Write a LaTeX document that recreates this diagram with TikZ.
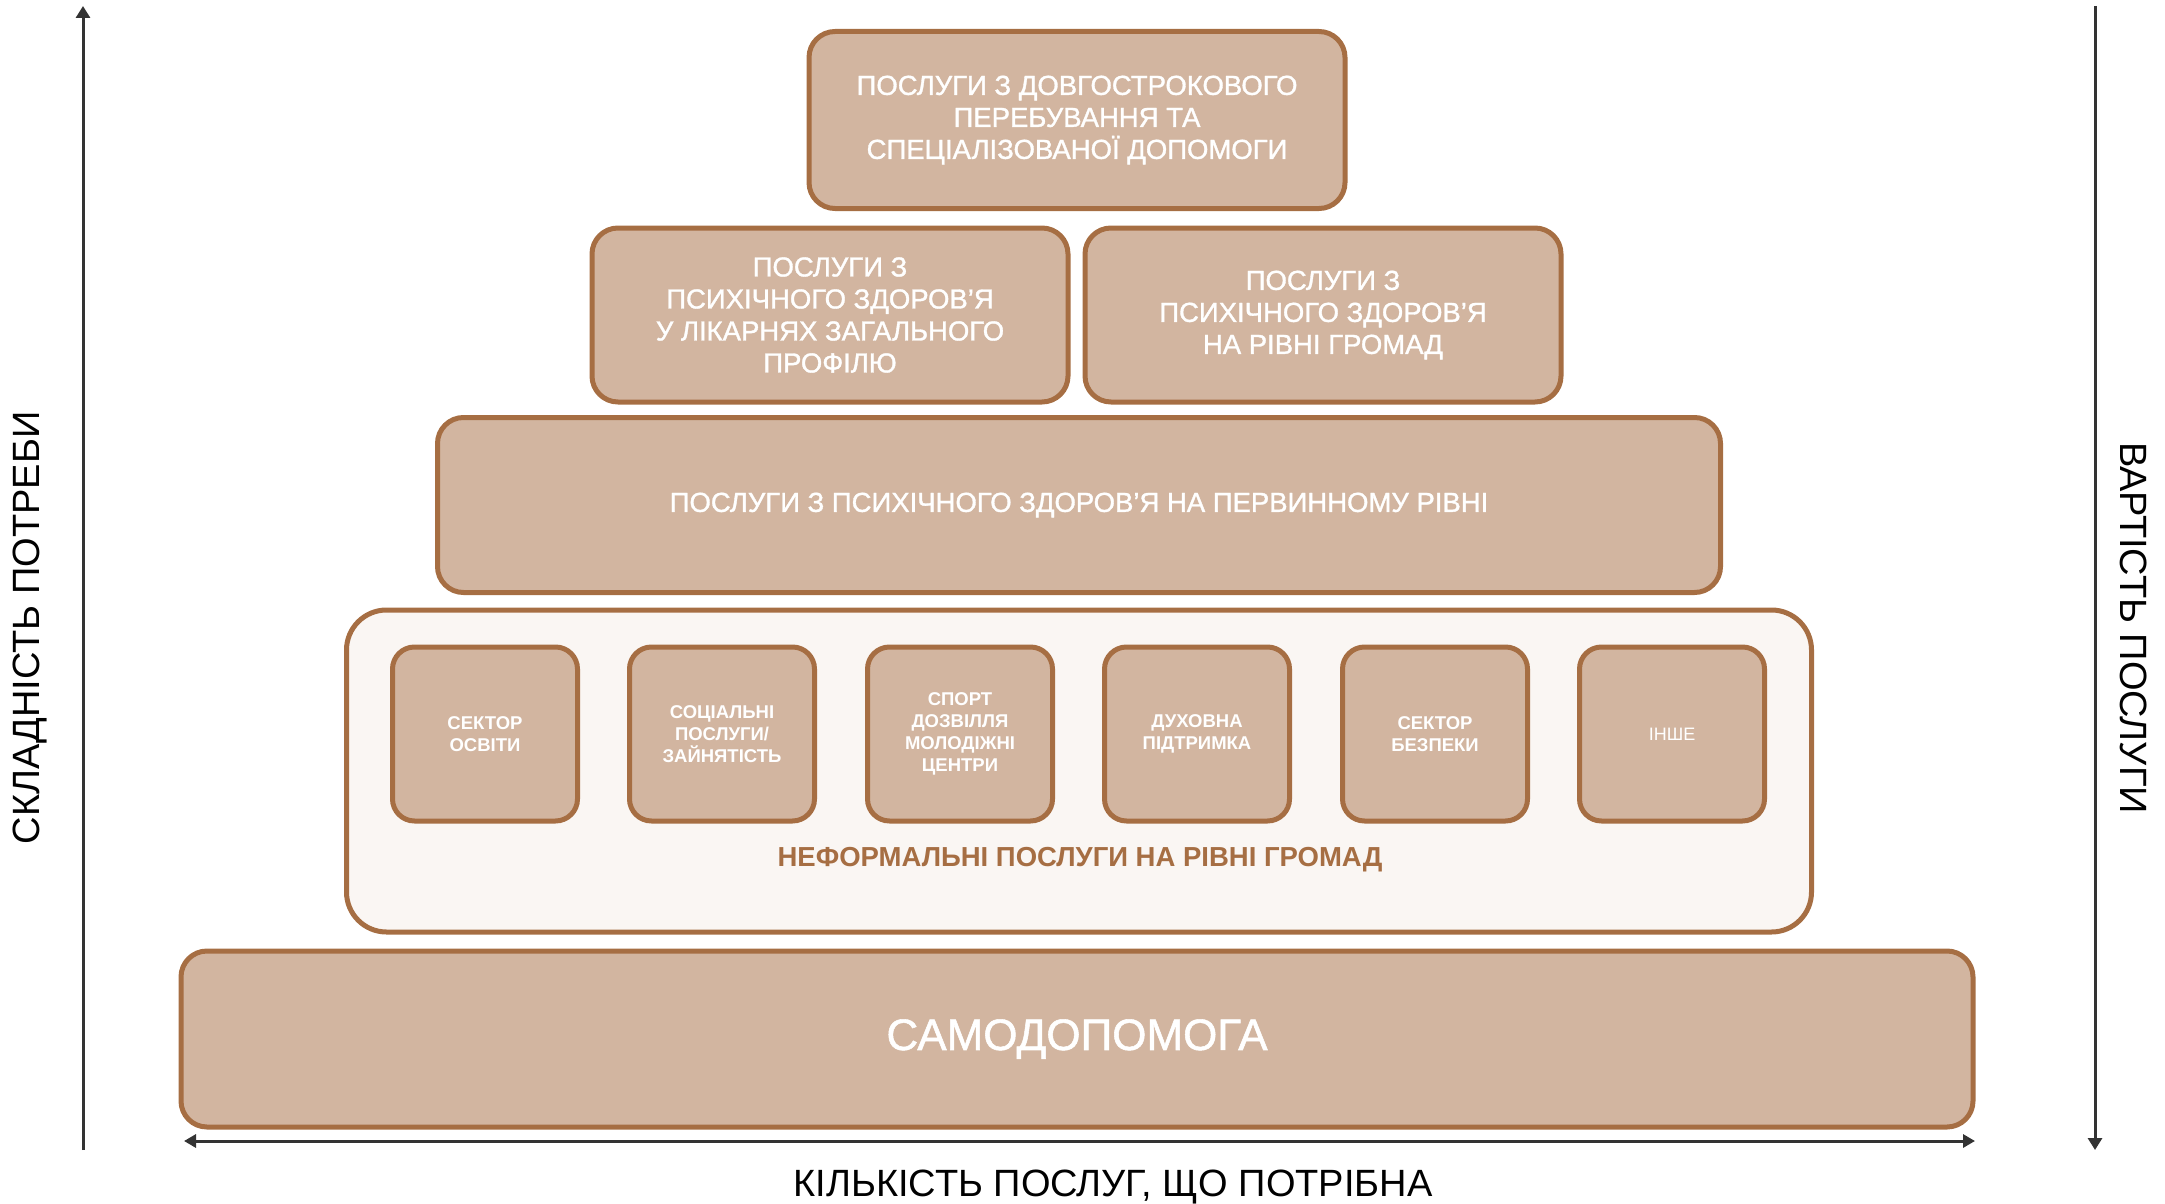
\documentclass[tikz,border=0pt]{standalone}
\usepackage{fontspec}
\setmainfont{Liberation Sans}
\newfontfamily\medfont[FakeBold=1.2]{Liberation Sans}
\usetikzlibrary{arrows.meta}
\definecolor{boxfill}{HTML}{D2B5A0}
\definecolor{boxdraw}{HTML}{A66E43}
\definecolor{softfill}{HTML}{FAF6F3}
\definecolor{axisgray}{HTML}{333333}
\begin{document}
\begin{tikzpicture}[x=1pt,y=-1pt,
  box/.style={draw=boxdraw, fill=boxfill, line width=5pt, rounded corners=26pt, text=white, align=center, inner sep=0pt,
    font=\medfont\fontsize{27.5}{32}\selectfont},
  smallbox/.style={box, rounded corners=22pt, minimum width=185pt, minimum height=174pt, font=\bfseries\fontsize{18.5}{22}\selectfont},
  softbox/.style={draw=boxdraw, fill=softfill, line width=5pt, rounded corners=40pt, inner sep=0pt},
  axisline/.style={draw=axisgray, line width=3pt},
  axislabel/.style={text=black, font=\fontsize{38}{42}\selectfont, inner sep=0pt}
]
\useasboundingbox (0,0) rectangle (2165,1204);

\node[box, minimum width=536pt, minimum height=177pt] (top) at (1077,120)
  {ПОСЛУГИ З ДОВГОСТРОКОВОГО\\ПЕРЕБУВАННЯ ТА\\СПЕЦІАЛІЗОВАНОЇ ДОПОМОГИ};
\node[box, minimum width=476pt, minimum height=174pt] (hosp) at (830,315)
  {ПОСЛУГИ З\\ПСИХІЧНОГО ЗДОРОВ’Я\\У ЛІКАРНЯХ ЗАГАЛЬНОГО\\ПРОФІЛЮ};
\node[box, minimum width=476pt, minimum height=174pt] (comm) at (1323,315)
  {ПОСЛУГИ З\\ПСИХІЧНОГО ЗДОРОВ’Я\\НА РІВНІ ГРОМАД};
\node[box, minimum width=1283pt, minimum height=175pt] (prim) at (1079,505)
  {ПОСЛУГИ З ПСИХІЧНОГО ЗДОРОВ’Я НА ПЕРВИННОМУ РІВНІ};
\node[softbox, minimum width=1465pt, minimum height=322pt] (inf) at (1079,771) {};
\node[smallbox] (s1) at (485,734) {СЕКТОР\\ОСВІТИ};
\node[smallbox] (s2) at (722,734) {СОЦІАЛЬНІ\\ПОСЛУГИ/\\ЗАЙНЯТІСТЬ};
\node[smallbox] (s3) at (960,734) {СПОРТ\\ДОЗВІЛЛЯ\\МОЛОДІЖНІ\\ЦЕНТРИ};
\node[smallbox] (s4) at (1197,734) {ДУХОВНА\\ПІДТРИМКА};
\node[smallbox] (s5) at (1435,734) {СЕКТОР\\БЕЗПЕКИ};
\node[smallbox, font=\fontsize{18}{22}\selectfont] (s6) at (1672,734) {ІНШЕ};
\node[text=boxdraw, font=\bfseries\fontsize{27.5}{30}\selectfont, inner sep=0pt] (inflabel) at (1080,860)
  {НЕФОРМАЛЬНІ ПОСЛУГИ НА РІВНІ ГРОМАД};
\node[box, minimum width=1792pt, minimum height=176pt, font=\medfont\fontsize{44}{50}\selectfont] (self) at (1077,1039)
  {САМОДОПОМОГА};

\coordinate (hl) at (184,1141);
\coordinate (hr) at (1975,1141);
\coordinate (lb) at (83,1150);
\coordinate (lt) at (83,6);
\coordinate (rt) at (2095,6);
\coordinate (rb) at (2095,1150);
\draw[axisline, {Triangle[width=13pt,length=12pt]}-{Triangle[width=13pt,length=12pt]}] (hl) -- (hr);
\draw[axisline, -{Triangle[width=14pt,length=12pt]}] (lb) -- (lt);
\draw[axisline, -{Triangle[width=14pt,length=12pt]}] (rt) -- (rb);

\node[axislabel] (xlab) at (1113,1187) {КІЛЬКІСТЬ ПОСЛУГ, ЩО ПОТРІБНА};
\node[axislabel, rotate=90] (ylab) at (30,628) {СКЛАДНІСТЬ ПОТРЕБИ};
\node[axislabel, rotate=-90] (clab) at (2134,628) {ВАРТІСТЬ ПОСЛУГИ};
\end{tikzpicture}
\end{document}
